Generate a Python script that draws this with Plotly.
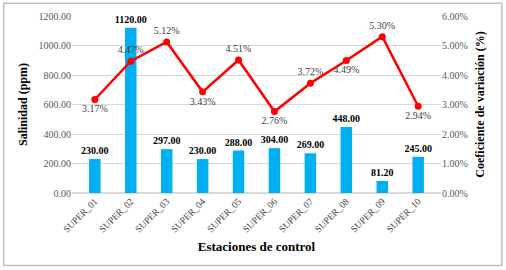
import plotly.graph_objects as go

stations = ["SUPER_01", "SUPER_02", "SUPER_03", "SUPER_04", "SUPER_05",
            "SUPER_06", "SUPER_07", "SUPER_08", "SUPER_09", "SUPER_10"]
salinity = [230.00, 1120.00, 297.00, 230.00, 288.00, 304.00, 269.00, 448.00, 81.20, 245.00]
cv_percent = [3.17, 4.47, 5.12, 3.43, 4.51, 2.76, 3.72, 4.49, 5.30, 2.94]
cv_label_pos = ["bottom center", "top center", "top center", "bottom center", "top center",
                "bottom center", "top center", "bottom center", "top center", "bottom center"]

FONT = "Liberation Serif"

fig = go.Figure()
fig.add_trace(go.Bar(
    x=stations, y=salinity, marker_color="#00B0F0", marker_line_width=0,
    texttemplate="<b>%{y:.2f}</b>", textposition="outside", constraintext="none",
    textfont=dict(family=FONT, size=10, color="#000000"),
    cliponaxis=False, showlegend=False, yaxis="y"))
fig.add_trace(go.Scatter(
    x=stations, y=cv_percent, mode="lines+markers+text",
    line=dict(color="#FF0000", width=2.5),
    marker=dict(color="#FF0000", size=7),
    text=[f"{v:.2f}%" for v in cv_percent], textposition=cv_label_pos,
    textfont=dict(family=FONT, size=10, color="#404040"),
    cliponaxis=False, showlegend=False, yaxis="y2"))

fig.update_layout(
    width=506, height=270,
    margin=dict(l=72, r=65, t=16, b=77),
    paper_bgcolor="white", plot_bgcolor="white",
    font=dict(family=FONT, size=10, color="#595959"),
    bargap=0.68,
    xaxis=dict(tickangle=-45, tickfont=dict(family=FONT, size=9.5, color="#404040"),
               showgrid=False, showline=False, ticks="", automargin=False,
               title=dict(text="<b>Estaciones de control</b>",
                          font=dict(family=FONT, size=13, color="#000000"), standoff=8)),
    yaxis=dict(range=[0, 1200], dtick=200, tickformat=".2f", automargin=False,
               gridcolor="#D9D9D9", gridwidth=1, zeroline=True, zerolinecolor="#D9D9D9",
               tickfont=dict(family=FONT, size=10, color="#595959"),
               title=dict(text="<b>Salinidad (ppm)</b>",
                          font=dict(family=FONT, size=12, color="#000000"), standoff=8)),
    yaxis2=dict(range=[0, 6], dtick=1, tickformat=".2f", ticksuffix="%", automargin=False,
                overlaying="y", side="right", showgrid=False, zeroline=False,
                tickfont=dict(family=FONT, size=10, color="#595959"),
                title=dict(text="<b>Coeficiente de variación (%)</b>",
                           font=dict(family=FONT, size=12, color="#000000"), standoff=8)),
    shapes=[dict(type="rect", xref="paper", yref="paper",
                 x0=-0.185, x1=1.165, y0=-0.41, y1=1.072,
                 line=dict(color="#BFBFBF", width=1.5), fillcolor="rgba(0,0,0,0)", layer="above")],
)

fig.write_html("out.html", config={"displayModeBar": False},
               post_script="document.body.style.margin='0';")
